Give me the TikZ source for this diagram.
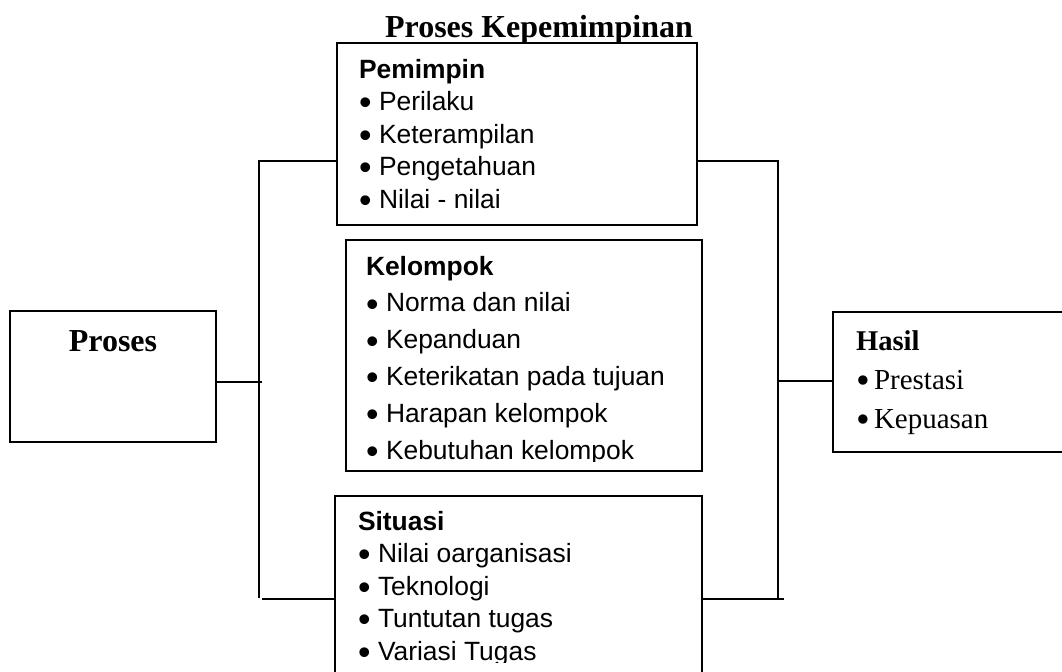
\documentclass[tikz,border=0pt]{standalone}
\usepackage{fontspec}
\setmainfont{Liberation Serif}
\newfontfamily\arial{Liberation Sans}
\newcommand\butir[2][10pt]{\makebox[#1][l]{\raisebox{-0.17em}{\scalebox{1.35}{•}}}#2}

\begin{document}
\begin{tikzpicture}[x=0.5pt, y=-0.5pt, line width=1pt,
    kotak/.style={draw, rectangle, inner sep=0pt, outer sep=0pt, anchor=north west},
    judul/.style={font=\fontsize{16}{19}\selectfont\bfseries, anchor=base, inner sep=0pt},
    isi/.style={font=\arial\fontsize{13.2}{16}\selectfont, anchor=base west, inner sep=0pt},
    kepala/.style={isi, font=\arial\fontsize{13.2}{16}\selectfont\bfseries},
    hasil/.style={font=\fontsize{14.5}{17}\selectfont, anchor=base west, inner sep=0pt}]

    \useasboundingbox (0,0) rectangle (1062,671);

    % --- Judul ---
    \node[judul] (judul) at (539,37) {Proses Kepemimpinan};

    % --- Kotak-kotak ---
    \node[kotak, minimum width=180pt, minimum height=91pt] (pemimpin) at (337,43) {};
    \node[kotak, minimum width=178pt, minimum height=115.5pt] (kelompok) at (346,240) {};
    \node[kotak, minimum width=183.5pt, minimum height=125pt] (situasi) at (335,496) {};
    \node[kotak, minimum width=103pt, minimum height=65.5pt] (proses) at (10,311) {};
    \node[kotak, minimum width=135pt, minimum height=70pt] (hasil) at (833,312) {};

    % --- Proses ---
    \node[judul] (proses-0) at (113,351) {Proses};

    % --- Pemimpin ---
    \node[kepala] (pemimpin-0) at (358,78) {Pemimpin};
    \foreach \nama [count=\i] in {Perilaku, Keterampilan, Pengetahuan, Nilai - nilai}
        \node[isi] (pemimpin-\i) at (358,{78+32.5*\i}) {\butir{\nama}};

    % --- Kelompok (baris terakhir terpotong) ---
    \begin{scope}
        \clip (kelompok.north west) rectangle ([yshift=5pt]kelompok.south east);
        \node[kepala] (kelompok-0) at (365,275) {Kelompok};
        \foreach \nama [count=\i] in {Norma dan nilai, Kepanduan, Keterikatan pada tujuan, Harapan kelompok, Kebutuhan kelompok}
            \node[isi] (kelompok-\i) at (365,{275+36.8*\i}) {\butir{\nama}};
    \end{scope}

    % --- Situasi (terpotong di bawah) ---
    \begin{scope}
        \clip (situasi.north west) rectangle (702,662);
        \node[kepala] (situasi-0) at (357,530) {Situasi};
        \foreach \nama [count=\i] in {Nilai oarganisasi, Teknologi, Tuntutan tugas, Variasi Tugas}
            \node[isi] (situasi-\i) at (357,{530+32.5*\i}) {\butir{\nama}};
    \end{scope}

    % --- Hasil ---
    \node[hasil, font=\fontsize{14.3}{17}\selectfont\bfseries] (hasil-0) at (855,350) {Hasil};
    \foreach \nama [count=\i] in {Prestasi, Kepuasan}
        \node[hasil] (hasil-\i) at (855,{350+39*\i}) {\butir[9pt]{\nama}};

    % --- Garis kiri ---
    \coordinate (kiri-atas) at (259,161);
    \coordinate (kiri-bawah) at (259,598);
    \coordinate (kiri-tengah) at (262,382);
    \coordinate (kiri-ujung) at (262,599);
    \draw (pemimpin.west |- kiri-atas) -- (kiri-atas) -- (kiri-bawah);
    \draw (proses.east |- kiri-tengah) -- (kiri-tengah);
    \draw (kiri-ujung) -- (situasi.west |- kiri-ujung);

    % --- Garis kanan ---
    \coordinate (kanan-atas) at (778,161);
    \coordinate (kanan-bawah) at (778,599);
    \coordinate (kanan-tengah) at (778,381);
    \coordinate (kanan-ujung) at (784,599);
    \draw (pemimpin.east |- kanan-atas) -- (kanan-atas) -- (kanan-bawah);
    \draw (situasi.east |- kanan-ujung) -- (kanan-ujung);
    \draw (kanan-tengah) -- (hasil.west |- kanan-tengah);
\end{tikzpicture}
\end{document}
